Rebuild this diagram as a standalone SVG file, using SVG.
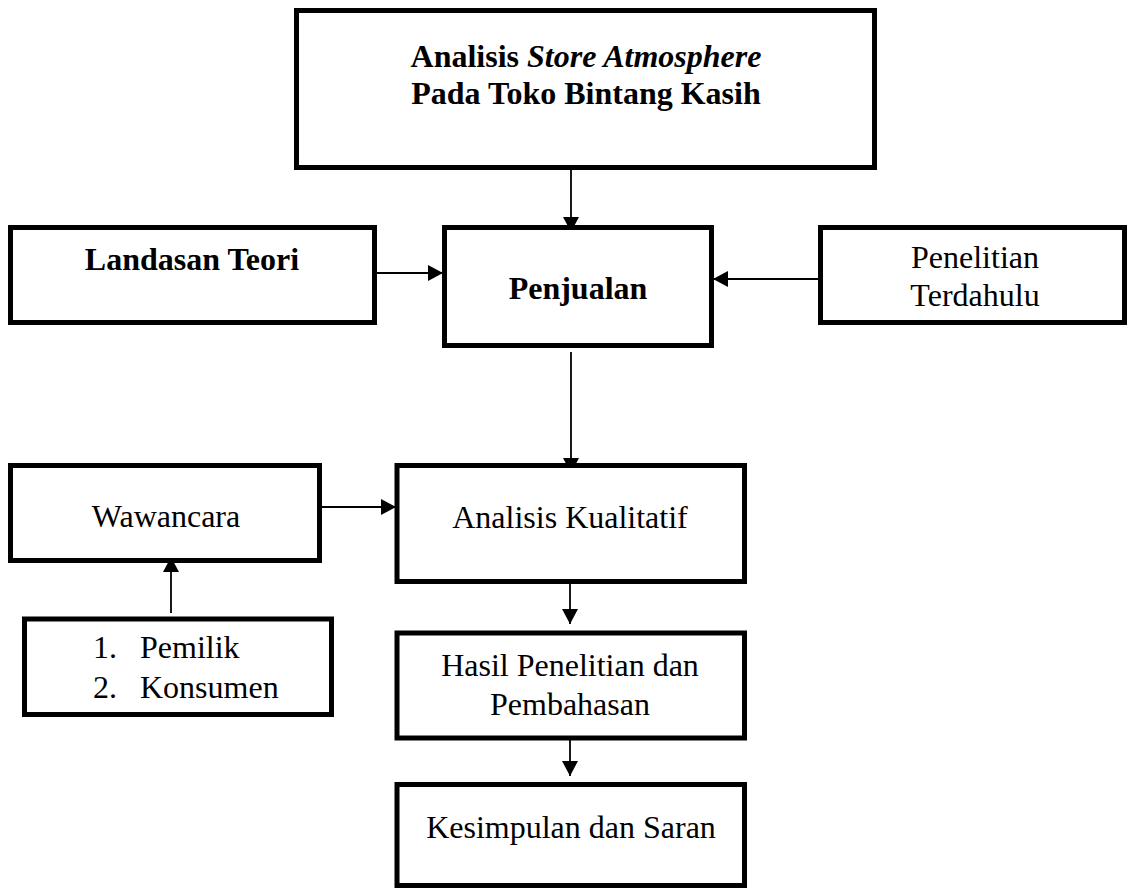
<svg xmlns="http://www.w3.org/2000/svg" width="1128" height="888" viewBox="0 0 1128 888">
<style>
.box{fill:#fff;stroke:#000;stroke-width:5}
.t{font-family:"Liberation Serif","Times New Roman",serif;font-size:32px;fill:#000}
.c{text-anchor:middle}
.b{font-weight:bold}
.ln{stroke:#000;stroke-width:1.8;fill:none}
</style>
<defs>
<marker id="ah" markerUnits="userSpaceOnUse" markerWidth="16" markerHeight="16" viewBox="0 0 16 16" refX="15" refY="8" orient="auto">
<path d="M0,0 L15,8 L0,16 z" fill="#000"/>
</marker>
</defs>
<rect width="1128" height="888" fill="#fff"/>
<g id="connectors">
<line class="ln" x1="571" y1="170" x2="571" y2="232" marker-end="url(#ah)"/>
<line class="ln" x1="377" y1="273" x2="443" y2="273" marker-end="url(#ah)"/>
<line class="ln" x1="818" y1="279" x2="713" y2="279" marker-end="url(#ah)"/>
<line class="ln" x1="571" y1="352" x2="571" y2="473" marker-end="url(#ah)"/>
<line class="ln" x1="322" y1="507" x2="396" y2="507" marker-end="url(#ah)"/>
<line class="ln" x1="171" y1="613" x2="171" y2="557" marker-end="url(#ah)"/>
<line class="ln" x1="570" y1="579" x2="570" y2="624" marker-end="url(#ah)"/>
<line class="ln" x1="570" y1="732" x2="570" y2="776" marker-end="url(#ah)"/>
</g>
<g id="title">
<rect class="box" x="296.5" y="10.5" width="578" height="157"/>
<text class="t c b" x="586" y="67">Analisis <tspan font-style="italic">Store Atmosphere</tspan></text>
<text class="t c b" x="586" y="104">Pada Toko Bintang Kasih</text>
</g>
<g id="landasan">
<rect class="box" x="10.5" y="227.5" width="364" height="95"/>
<text class="t c b" x="192" y="270">Landasan Teori</text>
</g>
<g id="penjualan">
<rect class="box" x="444.5" y="227.5" width="267" height="118"/>
<text class="t c b" x="578" y="299">Penjualan</text>
</g>
<g id="penelitian">
<rect class="box" x="820.5" y="227.5" width="304" height="95"/>
<text class="t c" x="975" y="268">Penelitian</text>
<text class="t c" x="975" y="306">Terdahulu</text>
</g>
<g id="wawancara">
<rect class="box" x="10.5" y="465.5" width="309" height="95"/>
<text class="t c" x="166" y="527">Wawancara</text>
</g>
<g id="analisis">
<rect class="box" x="397" y="465.5" width="347.5" height="116"/>
<text class="t c" x="570" y="528">Analisis Kualitatif</text>
</g>
<g id="informan">
<rect class="box" x="24.5" y="619" width="307" height="95.5"/>
<text class="t" x="93" y="658">1.</text>
<text class="t" x="140" y="658">Pemilik</text>
<text class="t" x="93" y="698">2.</text>
<text class="t" x="140" y="698">Konsumen</text>
</g>
<g id="hasil">
<rect class="box" x="397" y="633" width="347.5" height="105"/>
<text class="t c" x="570" y="676">Hasil Penelitian dan</text>
<text class="t c" x="570" y="715">Pembahasan</text>
</g>
<g id="kesimpulan">
<rect class="box" x="397" y="784.5" width="347.5" height="101"/>
<text class="t c" x="571" y="838">Kesimpulan dan Saran</text>
</g>
</svg>
